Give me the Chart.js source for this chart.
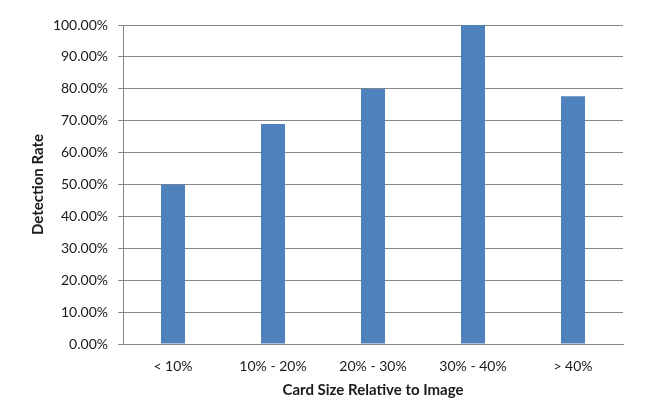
<!DOCTYPE html>
<html>
<head>
<meta charset="utf-8">
<script src="https://cdn.jsdelivr.net/npm/chart.js@4.4.1/dist/chart.umd.min.js"></script>
<style>
  html, body { margin: 0; padding: 0; background: #fff; }
  #wrap { width: 666px; height: 410px; }
</style>
</head>
<body>
<div id="wrap"><canvas id="detectionChart" width="666" height="410"></canvas></div>
<script>
// Chart data
const categories = ['< 10%', '10% - 20%', '20% - 30%', '30% - 40%', '> 40%']
const detectionRates = [50, 69, 80, 100, 77.7]
const yTickMin = 0
const yTickMax = 100
const yTickStep = 10

const axisGray = '#868686'
const textColor = '#1a1a1a'
const fontFamily = 'Lato, "Open Sans", sans-serif'

const ctx = document.getElementById('detectionChart').getContext('2d')

new Chart(ctx, {
  type: 'bar',
  data: {
    labels: categories,
    datasets: [
      {
        label: 'Detection Rate',
        data: detectionRates,
        backgroundColor: '#4F81BD',
        borderWidth: 0,
        barPercentage: 0.24,
        categoryPercentage: 1,
      },
    ],
  },
  options: {
    responsive: false,
    animation: false,
    layout: {
      padding: { top: 25, right: 43, bottom: 0, left: 0 },
    },
    plugins: {
      legend: { display: false },
      tooltip: { enabled: false },
    },
    scales: {
      x: {
        grid: { display: false, drawTicks: false },
        border: { display: true, color: axisGray, width: 1 },
        ticks: {
          color: textColor,
          padding: 14,
          font: { family: fontFamily, size: 14 },
          maxRotation: 0,
        },
        title: {
          display: true,
          text: 'Card Size Relative to Image',
          color: textColor,
          font: { family: fontFamily, size: 15, weight: 'bold' },
          padding: { top: 0, bottom: 11 },
        },
        afterFit(scale) {
          scale.height = 66
        },
      },
      y: {
        min: yTickMin,
        max: yTickMax,
        grid: {
          color: axisGray,
          lineWidth: 1,
          tickLength: 5,
          drawTicks: true,
        },
        border: { display: true, color: axisGray, width: 1 },
        ticks: {
          stepSize: yTickStep,
          color: textColor,
          padding: 10,
          font: { family: fontFamily, size: 14 },
          callback: (value) => value.toFixed(2) + '%',
        },
        title: {
          display: true,
          text: 'Detection Rate',
          color: textColor,
          font: { family: fontFamily, size: 15, weight: 'bold' },
          padding: { top: 29, bottom: 0 },
        },
        afterFit(scale) {
          scale.width = 123
        },
      },
    },
  },
})
</script>
</body>
</html>
